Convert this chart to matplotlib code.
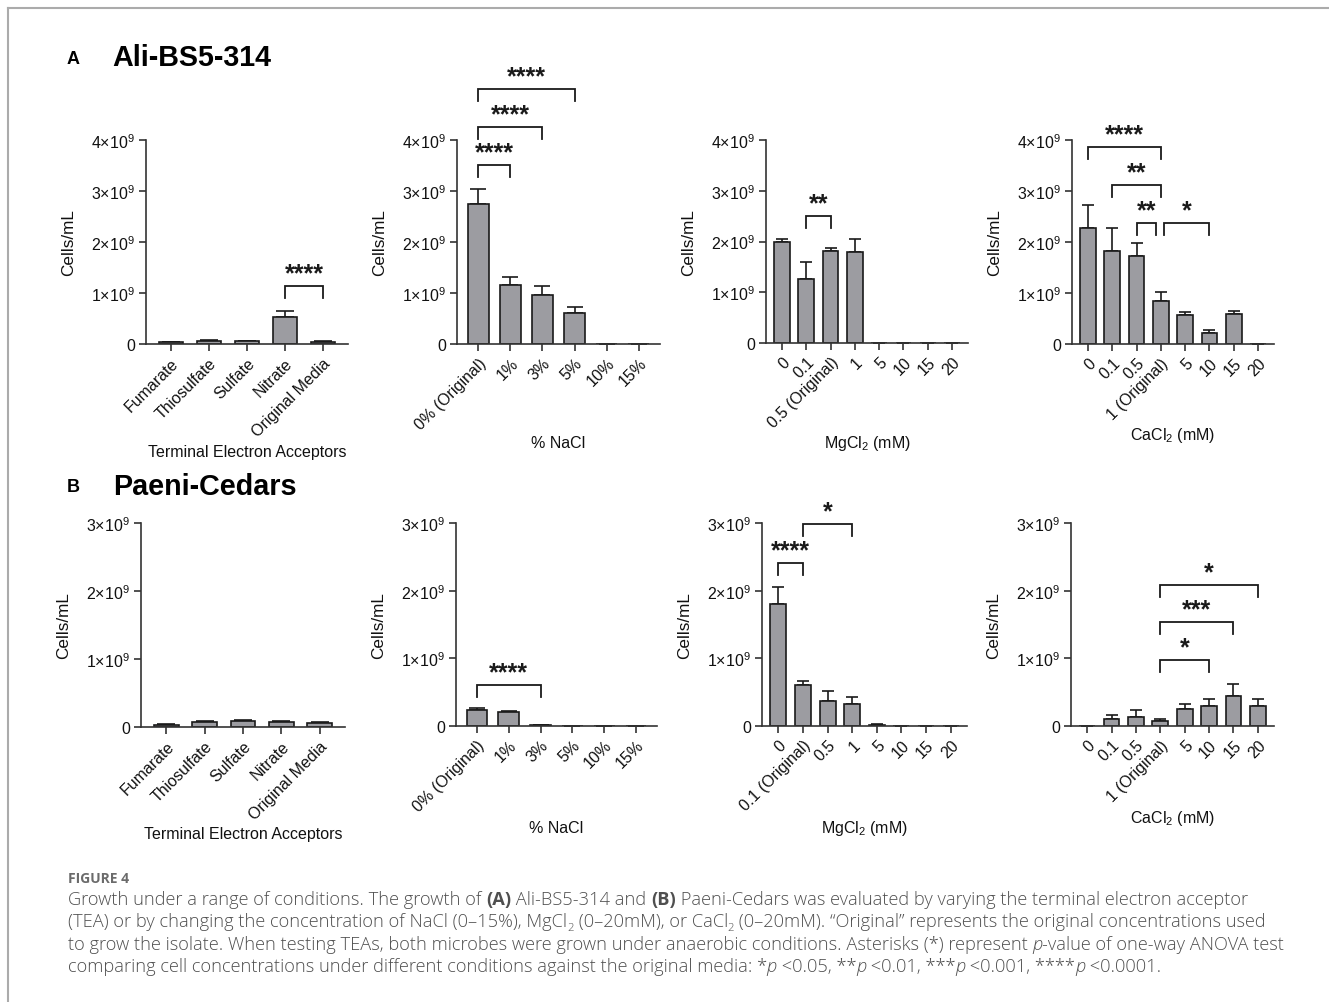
import matplotlib
matplotlib.use("Agg")
import matplotlib.pyplot as plt
import matplotlib.transforms as mtransforms
from matplotlib.ticker import FuncFormatter, FixedLocator

plt.rcParams['font.family'] = ['Liberation Sans', 'DejaVu Sans']
plt.rcParams['mathtext.fontset'] = 'custom'
plt.rcParams['mathtext.rm'] = 'Liberation Sans'
plt.rcParams['mathtext.it'] = 'Liberation Sans:italic'
plt.rcParams['mathtext.bf'] = 'Liberation Sans:bold'

SCALE = 1e9  # values below are in units of 10^9 cells/mL

# ---------------- categories ----------------
tea_labels = ['Fumarate', 'Thiosulfate', 'Sulfate', 'Nitrate', 'Original Media']
nacl_labels = ['0% (Original)', '1%', '3%', '5%', '10%', '15%']
mg_labels_a = ['0', '0.1', '0.5 (Original)', '1', '5', '10', '15', '20']
ca_labels = ['0', '0.1', '0.5', '1 (Original)', '5', '10', '15', '20']
mg_labels_b = ['0', '0.1 (Original)', '0.5', '1', '5', '10', '15', '20']

# ---------------- Ali-BS5-314 ----------------
ali_tea_mean = [0.03, 0.06, 0.05, 0.53, 0.03]
ali_tea_err = [0.01, 0.02, 0.01, 0.12, 0.02]
ali_nacl_mean = [2.75, 1.15, 0.97, 0.60, 0.0, 0.0]
ali_nacl_err = [0.28, 0.17, 0.16, 0.12, 0.0, 0.0]
ali_mg_mean = [2.00, 1.27, 1.82, 1.80, 0.0, 0.0, 0.0, 0.0]
ali_mg_err = [0.04, 0.33, 0.05, 0.24, 0.0, 0.0, 0.0, 0.0]
ali_ca_mean = [2.27, 1.82, 1.72, 0.84, 0.57, 0.22, 0.59, 0.0]
ali_ca_err = [0.46, 0.45, 0.27, 0.17, 0.05, 0.06, 0.05, 0.0]

# ---------------- Paeni-Cedars ----------------
pae_tea_mean = [0.03, 0.07, 0.09, 0.07, 0.06]
pae_tea_err = [0.01, 0.02, 0.01, 0.015, 0.015]
pae_nacl_mean = [0.23, 0.20, 0.01, 0.0, 0.0, 0.0]
pae_nacl_err = [0.04, 0.02, 0.005, 0.0, 0.0, 0.0]
pae_mg_mean = [1.80, 0.61, 0.37, 0.33, 0.01, 0.0, 0.0, 0.0]
pae_mg_err = [0.26, 0.06, 0.14, 0.10, 0.02, 0.0, 0.0, 0.0]
pae_ca_mean = [0.0, 0.10, 0.13, 0.07, 0.25, 0.30, 0.45, 0.29]
pae_ca_err = [0.0, 0.06, 0.10, 0.04, 0.07, 0.10, 0.17, 0.11]

# ---------------- significance brackets: (i, j, height, stars) ----------------
ali_tea_sig = [(3, 4, 1.13, '****')]
ali_nacl_sig = [(0, 1, 3.51, '****'), (0, 2, 4.25, '****'), (0, 3, 5.00, '****')]
ali_mg_sig = [(1, 2, 2.50, '**')]
ali_ca_sig = [(0, 3, 3.86, '****'), (1, 3, 3.12, '**'), (2, 3, 2.37, '**'), (3, 5, 2.37, '*')]
pae_tea_sig = []
pae_nacl_sig = [(0, 2, 0.60, '****')]
pae_mg_sig = [(0, 1, 2.41, '****'), (1, 3, 2.98, '*')]
pae_ca_sig = [(3, 5, 0.97, '*'), (3, 6, 1.53, '***'), (3, 7, 2.09, '*')]

W, H = 1329, 1003
fig = plt.figure(figsize=(W / 100, H / 100), dpi=100)
fig.patch.set_facecolor('white')

BAR_COLOR = '#9c9ca1'
LINE_COLOR = '#1a1a1a'
SPINE_COLOR = '#333333'


def rect(x0, x1, ytop, ybot):
    return [x0 / W, 1 - ybot / H, (x1 - x0) / W, (ybot - ytop) / H]


def yfmt(v, pos):
    if abs(v) < 1e-6:
        return '0'
    return r'$%d{\times}10^{9}$' % round(v / SCALE)


def panel(r, labels, mean, err, sigs, ymax, xlabel, xlabel_y):
    ax = fig.add_axes(r)
    n = len(labels)
    x = list(range(n))
    vals = [m * SCALE for m in mean]
    errs = [e * SCALE for e in err]
    ax.set_xlim(-0.66, n - 1 + 0.66)
    ax.set_ylim(0, ymax * SCALE)

    ax_w_px = r[2] * W
    spacing_px = ax_w_px / (n - 1 + 1.32)
    bw = 0.65
    cap_pt = 0.375 * bw * spacing_px * 72 / 100

    ax.bar(x, vals, width=bw, color=BAR_COLOR, edgecolor=LINE_COLOR,
           linewidth=1.2, zorder=2)
    ax.errorbar(x, vals, yerr=[[0] * n, errs], fmt='none', ecolor=LINE_COLOR,
                elinewidth=1.2, capsize=cap_pt, capthick=1.2, zorder=1)

    for s in ('top', 'right'):
        ax.spines[s].set_visible(False)
    for s in ('left', 'bottom'):
        ax.spines[s].set_color(SPINE_COLOR)
        ax.spines[s].set_linewidth(1.2)
        ax.spines[s].set_zorder(3)
    ax.yaxis.set_major_locator(FixedLocator([k * SCALE for k in range(ymax + 1)]))
    ax.yaxis.set_major_formatter(FuncFormatter(yfmt))
    ax.set_xticks(x)
    ax.set_xticklabels(labels, rotation=45, ha='right', rotation_mode='anchor')
    ax.tick_params(axis='both', direction='out', length=5, width=1.2,
                   color=SPINE_COLOR, labelsize=11.5, labelcolor='#111111')
    ax.tick_params(axis='x', pad=3)
    ax.tick_params(axis='y', pad=3)

    ax.set_ylabel('Cells/mL', fontsize=12.3, color='#111111')
    ax.yaxis.set_label_coords(-70 / ax_w_px, 0.5)
    ax.set_xlabel(xlabel, fontsize=11.5, color='#111111')
    ax.xaxis.set_label_coords(0.5, xlabel_y)
    ax.xaxis.label.set_va('center')

    leg = ymax * SCALE * 12 / (r[3] * H)
    # brackets that meet at a shared category are pulled apart slightly
    ends = {}
    for i, j, h, _ in sigs:
        ends.setdefault(h, []).append((i, j))
    for i, j, h, star in sigs:
        x0, x1 = float(i), float(j)
        for (a, b) in ends[h]:
            if (a, b) != (i, j):
                if b == i:
                    x0 += 0.14
                if a == j:
                    x1 -= 0.19
        y = h * SCALE
        ax.plot([x0, x0, x1, x1], [y - leg, y, y, y - leg], color=LINE_COLOR,
                lw=1.3, clip_on=False, solid_joinstyle='miter', zorder=3)
        ax.annotate(star, ((x0 + x1) / 2, y), xytext=(0, 0.5),
                    textcoords='offset points', ha='center', va='bottom',
                    fontsize=18, fontweight='bold', color=LINE_COLOR,
                    annotation_clip=False)
    return ax


# Row A: Ali-BS5-314
panel(rect(146, 348, 141, 345), tea_labels, ali_tea_mean, ali_tea_err, ali_tea_sig, 4,
      'Terminal Electron Acceptors', -0.525)
panel(rect(457, 660, 141, 345), nacl_labels, ali_nacl_mean, ali_nacl_err, ali_nacl_sig, 4,
      '% NaCl', -0.485)
panel(rect(766, 968, 141, 344), mg_labels_a, ali_mg_mean, ali_mg_err, ali_mg_sig, 4,
      r'MgCl$_2$ (mM)', -0.49)
panel(rect(1072, 1274, 141, 345), ca_labels, ali_ca_mean, ali_ca_err, ali_ca_sig, 4,
      r'CaCl$_2$ (mM)', -0.446)

# Row B: Paeni-Cedars
panel(rect(141, 345, 524, 728), tea_labels, pae_tea_mean, pae_tea_err, pae_tea_sig, 3,
      'Terminal Electron Acceptors', -0.52)
panel(rect(456, 657, 524, 727), nacl_labels, pae_nacl_mean, pae_nacl_err, pae_nacl_sig, 3,
      '% NaCl', -0.5)
panel(rect(762, 967, 524, 727), mg_labels_b, pae_mg_mean, pae_mg_err, pae_mg_sig, 3,
      r'MgCl$_2$ (mM)', -0.5)
panel(rect(1071, 1274, 524, 727), ca_labels, pae_ca_mean, pae_ca_err, pae_ca_sig, 3,
      r'CaCl$_2$ (mM)', -0.45)

# Panel headings
px = mtransforms.IdentityTransform()
fig.text(67, H - 60, 'A', transform=px, fontsize=13, fontweight='bold', va='center')
fig.text(112, H - 58, 'Ali-BS5-314', transform=px, fontsize=20.7, fontweight='bold', va='center')
fig.text(67, H - 488, 'B', transform=px, fontsize=13, fontweight='bold', va='center')
fig.text(113, H - 487, 'Paeni-Cedars', transform=px, fontsize=20.7, fontweight='bold', va='center')

# Page frame
fig.add_artist(plt.Line2D([8, W], [H - 9, H - 9], transform=px, color='#ababab', lw=1.5))
fig.add_artist(plt.Line2D([8, 8], [0, H - 9], transform=px, color='#ababab', lw=1.5))

# Caption
CAP_FAMILY = ['Open Sans', 'DejaVu Sans']
CAP_COLOR = '#4f4f4f'
fig.text(68, H - 879, 'FIGURE 4', transform=px, fontsize=10, fontweight='bold',
         color='#6b6b6b', family=CAP_FAMILY, va='center')

caption_lines = [
    [('Growth under a range of conditions. The growth of ', ''), ('(A)', 'b'),
     (' Ali-BS5-314 and ', ''), ('(B)', 'b'),
     (' Paeni-Cedars was evaluated by varying the terminal electron acceptor', '')],
    [('(TEA) or by changing the concentration of NaCl (0\u201315%), MgCl', ''), ('2', 'sub'),
     (' (0\u201320mM), or CaCl', ''), ('2', 'sub'),
     (' (0\u201320mM). \u201cOriginal\u201d represents the original concentrations used', '')],
    [('to grow the isolate. When testing TEAs, both microbes were grown under anaerobic '
      'conditions. Asterisks (*) represent ', ''), ('p', 'i'),
     ('-value of one-way ANOVA test', '')],
    [('comparing cell concentrations under different conditions against the original media: *', ''),
     ('p', 'i'), (' <0.05, **', ''), ('p', 'i'), (' <0.01, ***', ''), ('p', 'i'),
     (' <0.001, ****', ''), ('p', 'i'), (' <0.0001.', '')],
]

renderer = fig.canvas.get_renderer()


def seg_kwargs(style, size):
    kw = dict(fontsize=size, family=CAP_FAMILY, color=CAP_COLOR, weight='light')
    if style == 'b':
        kw['weight'] = 'bold'
    elif style == 'i':
        kw['style'] = 'italic'
    elif style == 'sub':
        kw['fontsize'] = size * 0.62
    return kw


def text_width(s, kw):
    t1 = fig.text(0, 0, 'x' + s + 'x', transform=px, **kw)
    t2 = fig.text(0, 0, 'xx', transform=px, **kw)
    w = t1.get_window_extent(renderer).width - t2.get_window_extent(renderer).width
    t1.remove()
    t2.remove()
    return w


def line_width(segs, size):
    return sum(text_width(s, seg_kwargs(st, size)) for s, st in segs)


cap_size = 11.0
cap_size *= 1183 / line_width(caption_lines[0], cap_size)

for k, segs in enumerate(caption_lines):
    x = 68.0
    base = H - (905 + 22.3 * k)
    for s, st in segs:
        kw = seg_kwargs(st, cap_size)
        dy = -cap_size * 0.25 if st == 'sub' else 0
        fig.text(x, base + dy, s, transform=px, va='baseline', **kw)
        x += text_width(s, kw)

fig.savefig('out.png', dpi=100, facecolor='white')
